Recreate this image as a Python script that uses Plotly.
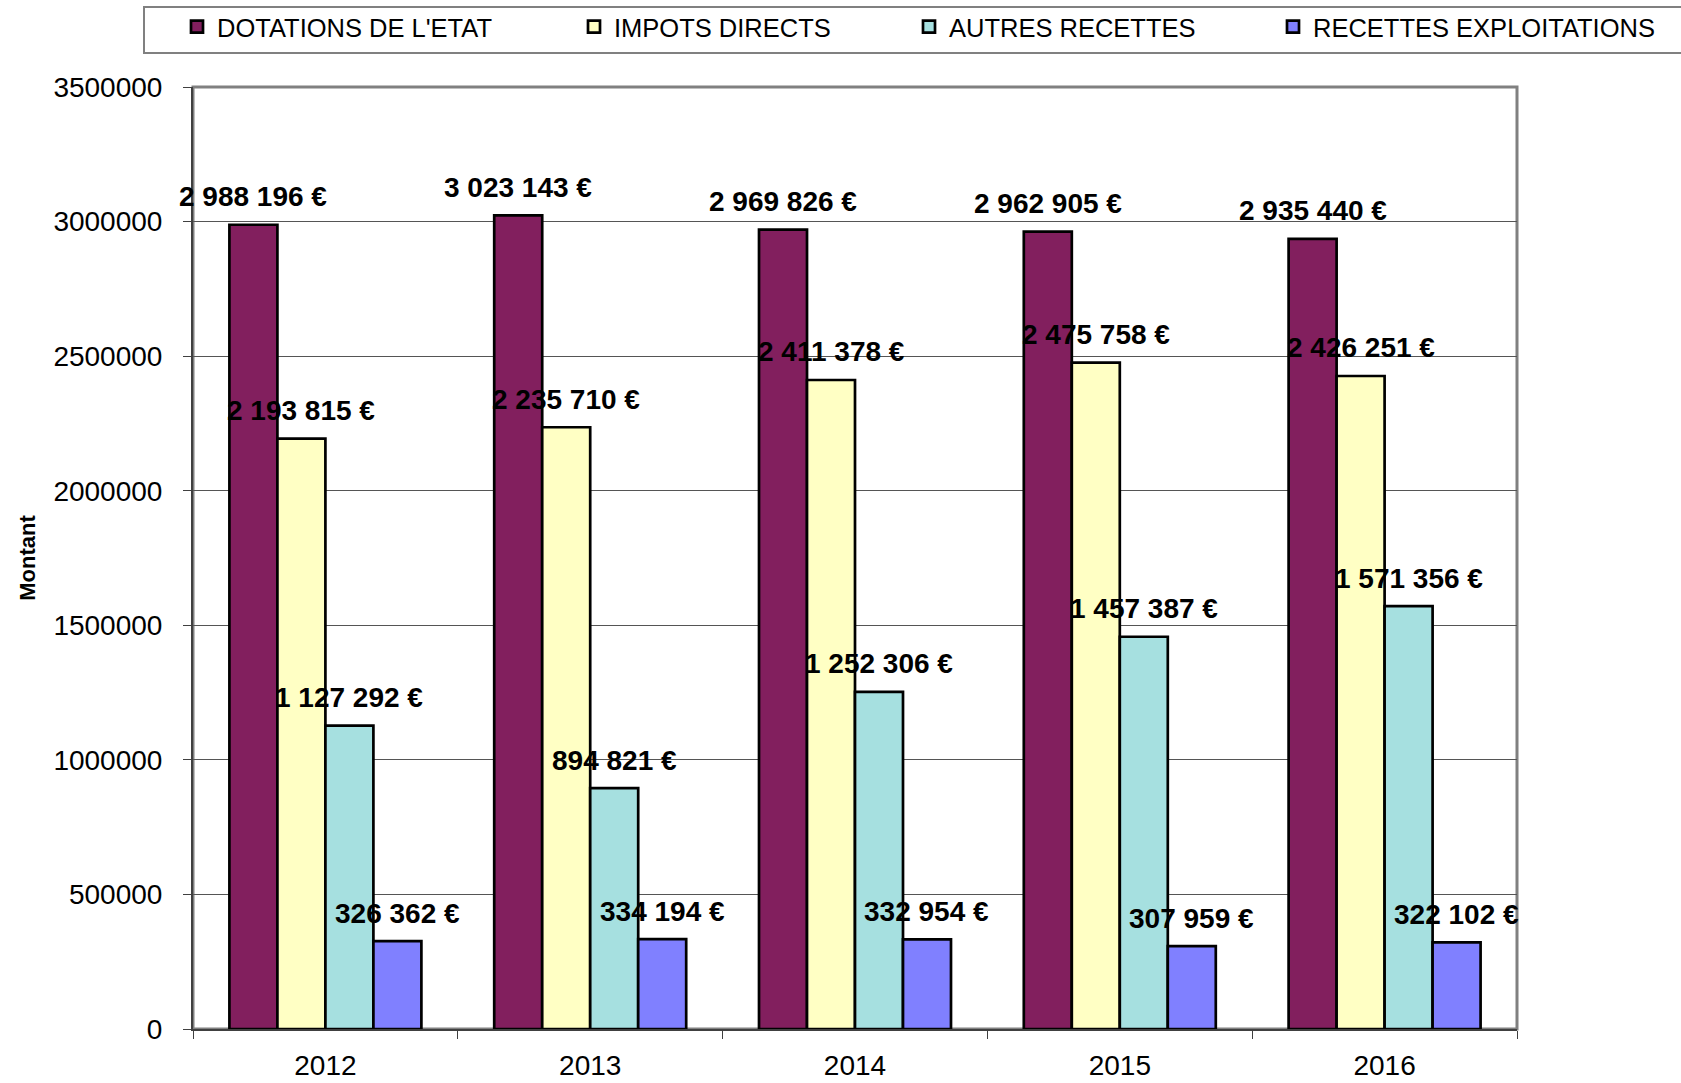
import plotly.graph_objects as go

# Budget revenue by category and year
years = ["2012", "2013", "2014", "2015", "2016"]
series_names = ["DOTATIONS DE L'ETAT", "IMPOTS DIRECTS", "AUTRES RECETTES", "RECETTES EXPLOITATIONS"]
dotations = [2988196, 3023143, 2969826, 2962905, 2935440]
impots = [2193815, 2235710, 2411378, 2475758, 2426251]
autres = [1127292, 894821, 1252306, 1457387, 1571356]
exploitations = [326362, 334194, 332954, 307959, 322102]
y_ticks = [0, 500000, 1000000, 1500000, 2000000, 2500000, 3000000, 3500000]

series_values = [dotations, impots, autres, exploitations]
colors = ["#821F5E", "#FFFFC4", "#A6E0E0", "#8080FF"]

W, H = 1681, 1083
ML, MR, MT, MB = 193, 164, 87, 54
plot_w = W - ML - MR
plot_h = H - MT - MB
BARGAP = 0.275
bar_px = plot_w / len(years) * (1 - BARGAP) / len(series_names)

FONT = "Liberation Sans, Arial, sans-serif"


def fmt_eur(v):
    return f"{v:,}".replace(",", " ") + " €"


fig = go.Figure()
legend_ids = ["legend", "legend2", "legend3", "legend4"]
for name, vals, col, lg in zip(series_names, series_values, colors, legend_ids):
    fig.add_trace(go.Bar(
        x=years, y=vals, name=name,
        marker=dict(color=col, line=dict(color="black", width=2.7)),
        legend=lg, showlegend=True,
    ))

# value labels above each bar (x given as category index)
annotations = []
for i, vals in enumerate(series_values):
    shift = (i - (len(series_names) - 1) / 2) * bar_px
    for k, v in enumerate(vals):
        annotations.append(dict(
            x=k, y=v, xref="x", yref="y", text=fmt_eur(v),
            showarrow=False, xshift=shift, yshift=28, yanchor="middle",
            font=dict(family=FONT, size=28, color="black", weight="bold"),
        ))

# legends, one per series, laid out along the top band
legend_px = [199, 596, 931, 1295]
legend_cfg = {}
for lg, px in zip(legend_ids, legend_px):
    legend_cfg[lg] = dict(
        xref="container", yref="container",
        x=(px - 22) / W, y=(H - 27) / H,
        xanchor="left", yanchor="middle",
        orientation="h", bgcolor="rgba(0,0,0,0)", borderwidth=0,
        font=dict(family=FONT, size=25.5, color="black"),
        itemwidth=30,
    )

shapes = [
    # plot frame
    dict(type="rect", xref="paper", yref="paper", x0=0, x1=1, y0=0, y1=1,
         line=dict(color="#808080", width=3), layer="below"),
    # legend box
    dict(type="rect", xref="paper", yref="paper",
         x0=(144 - ML) / plot_w, x1=(W + 10 - ML) / plot_w,
         y0=(H - MB - 53) / plot_h, y1=(H - MB - 7) / plot_h,
         line=dict(color="#808080", width=2)),
]

fig.update_layout(
    width=W, height=H,
    margin=dict(l=ML, r=MR, t=MT, b=MB, autoexpand=False),
    paper_bgcolor="white", plot_bgcolor="white",
    barmode="group", bargap=BARGAP, bargroupgap=0,
    annotations=annotations, shapes=shapes,
    font=dict(family=FONT, color="black"),
    showlegend=True,
    **legend_cfg,
)

fig.update_xaxes(
    type="category", range=[-0.5, len(years) - 0.5],
    showline=True, linecolor="#404040", linewidth=2,
    ticks="outside", tickson="boundaries", ticklen=8, tickcolor="#404040",
    tickfont=dict(family=FONT, size=28, color="black"), ticklabelstandoff=10,
    showgrid=False, automargin=False,
)
fig.update_yaxes(
    range=[0, 3500000], tickvals=y_ticks, tickformat="d",
    showline=True, linecolor="#404040", linewidth=2,
    ticks="outside", ticklen=8, tickcolor="#404040",
    tickfont=dict(family=FONT, size=28, color="black"), ticklabelstandoff=15,
    showgrid=True, gridcolor="#555555", gridwidth=1, zeroline=False,
    title=dict(text="Montant", standoff=12,
               font=dict(family=FONT, size=22, color="black", weight="bold")),
    automargin=False,
)

fig.write_html("out.html")
